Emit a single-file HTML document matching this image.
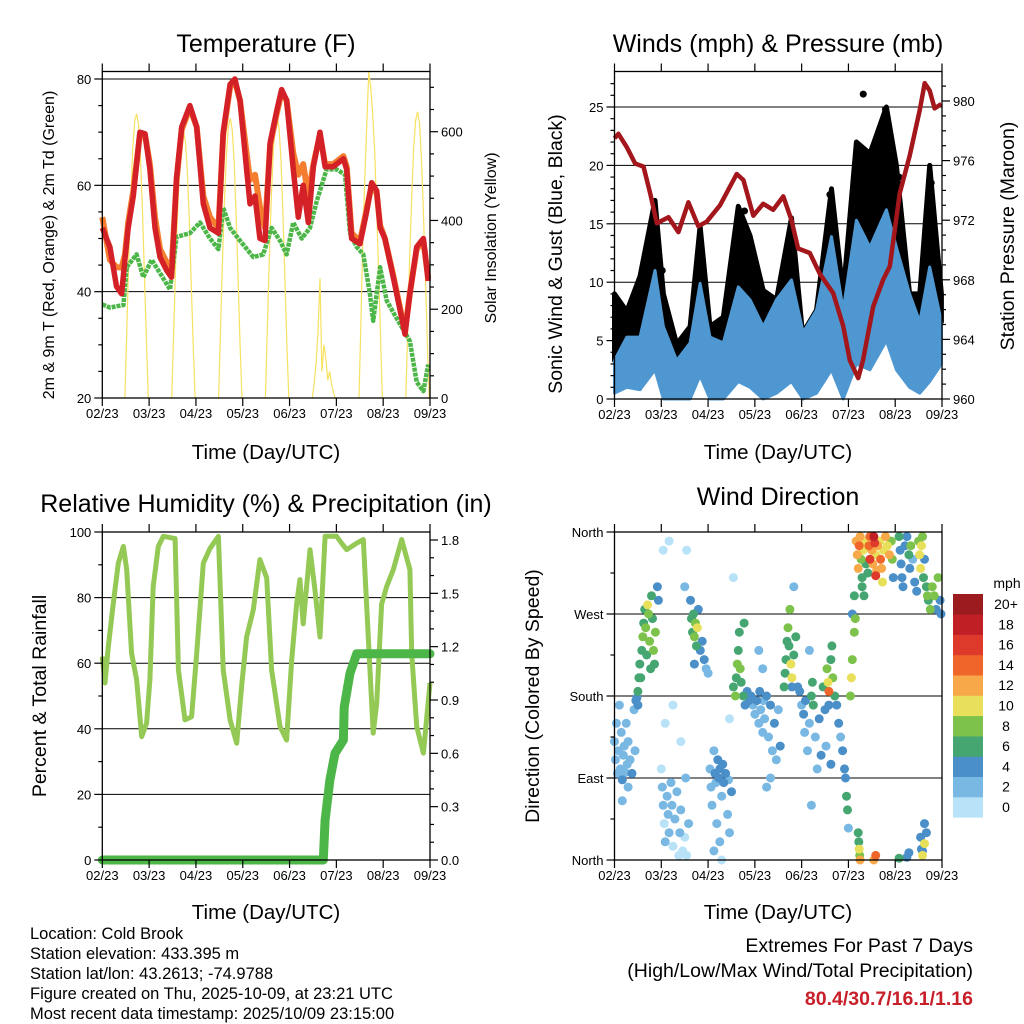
<!DOCTYPE html>
<html><head><meta charset="utf-8"><style>
html,body{margin:0;padding:0;background:#fff;}
svg{display:block;font-family:"Liberation Sans",Arial,sans-serif;}
</style></head><body>
<svg id="chart" width="1024" height="1024" viewBox="0 0 1024 1024" xmlns="http://www.w3.org/2000/svg">
<rect x="0" y="0" width="1024" height="1024" fill="#fff"/>
<g id="p1"></g>
<g id="p2"></g>
<g id="p3"></g>
<g id="p4"></g>
<g font-size="25" text-anchor="middle" fill="#000">
<text x="266" y="52">Temperature (F)</text>
<text x="778" y="52">Winds (mph) &amp; Pressure (mb)</text>
<text x="266" y="512">Relative Humidity (%) &amp; Precipitation (in)</text>
<text x="778" y="505">Wind Direction</text>
</g>
<g font-size="20.5" text-anchor="middle" fill="#000">
<text x="266" y="459">Time (Day/UTC)</text>
<text x="778" y="459">Time (Day/UTC)</text>
<text x="266" y="919">Time (Day/UTC)</text>
<text x="778" y="919">Time (Day/UTC)</text>
</g>
<g font-size="19.5" text-anchor="middle" fill="#000">
<text transform="translate(562,254) rotate(-90)">Sonic Wind &amp; Gust (Blue, Black)</text>
<text transform="translate(1014,236) rotate(-90)">Station Pressure (Maroon)</text>
<text transform="translate(46,696) rotate(-90)">Percent &amp; Total Rainfall</text>
<text transform="translate(539,696) rotate(-90)">Direction (Colored By Speed)</text>
</g>
<g font-size="16" text-anchor="middle" fill="#000">
<text transform="translate(54,245) rotate(-90)">2m &amp; 9m T (Red, Orange) &amp; 2m Td (Green)</text>
<text transform="translate(496,238) rotate(-90)">Solar Insolation (Yellow)</text>
</g>
<g font-size="16.5" fill="#000">
<text x="30" y="939">Location: Cold Brook</text>
<text x="30" y="959">Station elevation: 433.395 m</text>
<text x="30" y="979">Station lat/lon: 43.2613; -74.9788</text>
<text x="30" y="999">Figure created on Thu, 2025-10-09, at 23:21 UTC</text>
<text x="30" y="1019">Most recent data timestamp: 2025/10/09 23:15:00</text>
</g>
<g font-size="19.5" text-anchor="end">
<text x="973" y="952" fill="#000">Extremes For Past 7 Days</text>
<text x="973" y="977" fill="#000">(High/Low/Max Wind/Total Precipitation)</text>
<text x="973" y="1005" fill="#c8202a" font-weight="bold">80.4/30.7/16.1/1.16</text>
</g>
<g id="legend"></g>
</svg>
<script>
// ---------- data ----------
var dayLabels = ["02/23","03/23","04/23","05/23","06/23","07/23","08/23","09/23"];
var tempHours = [0,3.9,7.3,9.9,11.6,13.3,15.9,19.3,21.9,24.4,27,29.6,33,35.5,38.1,40.7,44.9,48.4,51.8,55.2,59.5,62,65.5,68,70.6,74,75.7,78.3,80.8,83.4,86,89.4,91.9,94.5,97.9,100.5,103,105.6,108.2,111.6,114.2,118.4,123.6,125.3,127.8,132.1,135.5,138.1,140.7,142.4,144.9,149.2,155.2,157.7,161.2,164.6,167.1];
var temp2m = [52,48.4,41,39.6,46,52,58,70,69.7,63,52,46.5,44,42.7,61.5,71,75,71,56.5,52,51,70,79,80,76,63,56.5,58,50,49.6,68,74,78,76,63,54,60,53,63.5,70,63.5,63.5,65,63,50,49,55,60.5,59,52,50,42.7,32,39.6,48.4,50,42];
var temp9m = [54,46,44.6,44.5,47,53,59,69.5,69.5,64,54,48,45.5,44,61,70.5,74.5,71,58,54,52,69.5,78.5,79.5,76,66,61,62,56,52,67.5,73.5,77.5,76,66,62,64,58,64,69.5,64,64,65.5,63.5,51,49.5,55.5,60,58.5,52.5,50,43,32.5,39.8,48,49.5,42.5];
var dewHours = [0,3.9,10.8,12.5,17.6,21,25.3,29.6,34.7,38.1,44.9,50.1,55.2,59.5,62,65.5,70.6,77.4,82.5,86.8,91.1,94.5,97.9,102.2,106.5,109.9,115,120.1,124.4,127,130.4,133.8,137.2,138.9,142.4,145.8,150.9,157.7,161.2,164.6,167.1];
var dewPoint = [37.6,37,37.5,44.6,47,42.7,46,43.5,40.4,50.3,51,53,50,48,55.8,52,49.6,46.5,47,52,49.6,47,53,50,52,57,63,63,62,51,48.4,47,39.6,34.5,44.6,38.3,35,30.7,23,21.3,26.3];
var solarDays = [
 [0,160,320,450,560,625,640,615,540,420,280,130,0],
 [0,150,300,420,520,585,600,580,510,400,260,120,0],
 [0,155,310,440,545,610,630,605,530,410,270,125,0],
 [0,155,315,445,550,615,630,610,535,415,270,125,0],
 [0,30,80,150,270,60,120,90,40,60,30,10,0],
 [0,170,360,500,620,735,700,640,560,430,290,140,0],
 [0,160,320,450,560,625,645,620,540,420,280,130,0]
];
var windHours = [0,6.3,13.1,20.8,25.1,31.9,38.8,43.9,49,55.8,63.5,69.5,76.3,83.1,90.8,96.8,103.6,111.3,117.3,124.1,131,139.5,144.6,151.4,156.6,161.7,167.7];
var windHigh = [3.3,5.3,5.3,11,6.2,3.3,4.8,9.9,5.3,4.8,9.6,8.5,6.2,8.5,10.2,5.7,7.6,13.9,7.6,15.3,13,16.2,13,9,6.6,11.3,6.6];
var windLow = [0.5,1,0.8,2.5,0,0,0,2,0,0,1.5,1,0,0.5,1.5,0,0.5,2.5,0,3,2.5,5,2.5,1,0.5,1.5,3];
var gust = [9,7.5,10.5,17,9,4.7,6.2,14.8,6.2,7,16.5,14,9.3,8.5,15.5,5,7.6,18,9,22,21,25,20,9,9,20,9];
var gustSpikeHours = [127.6,139,66.7,24.5,146,162.5,110.5];
var gustSpikes = [26.1,24.8,16.1,11,19,18.5,17.5];
var presHours = [0,2,6.3,10.6,14.9,18.3,21.7,27.7,32.8,37.9,43,47.3,54.1,62.7,66.1,71.2,76.3,81.4,86.6,90.8,94.2,100.2,105.3,112.2,117.3,120.7,125,127.5,132.7,137.8,141.2,146.3,151.4,156.6,159.1,161.7,164.2,167.7];
var pressure = [977.5,977.8,976.9,975.8,975.6,973.8,971.8,972.2,971.2,973.2,971.6,971.9,973,975.1,974.7,972.3,973.1,972.7,973.6,972,970.1,969.8,968.4,967.1,964.9,962.6,961.4,962.6,966.2,968,968.9,973.8,976.3,979.4,981.2,980.7,979.5,979.8];
var rhHours = [0,1.4,3.1,5.6,8.2,10.8,12.5,15,17.6,20.2,22.7,24.4,26.1,28.7,31.3,37.3,39,42.4,45.8,48.4,51.8,55.2,59.5,62,65.5,68.9,71.4,74,77.4,80.8,84.3,86.8,91.1,94.5,97.1,99.6,101.3,103,106.5,108.9,111.6,114.2,120.1,122.7,125.3,130.4,133.8,135.5,138.9,140.7,143.2,145.8,149.2,153.5,157.7,158.6,161.2,164.6,168];
var rh = [62,54,65,78,90.5,95.6,88.5,63,55,37.6,41.7,55,83.4,95.6,98.7,98,58,42.7,43.7,63,90.5,95,98.7,58,42.7,35.6,52.9,68,76.3,91.6,86,58,40.7,36.6,61,78,85.5,72,94.6,83,68,98.7,98.7,96.6,94.6,96.6,97.7,78,38.7,47.8,78,83.4,88.5,97.7,88.5,63,40.7,32.6,54];
var rainHours = [0,113.3,114.2,116.7,119.3,123.6,124,127,130.4,168];
var rain = [0,0,0.225,0.45,0.6,0.675,0.86,1.05,1.16,1.16];
var dirHours = [0,0.5,1,1.5,2,2.5,3,3.5,4,4.5,5,5.5,6,6.5,7,8,9,10,10.5,11,4,7,11.5,12,
12,12.5,13,14,14.5,15,15.5,16,17,17.5,18,19,19.5,20,20.5,21,22,22.5,13.5,16.5,18.5,
24,24.5,25,25.5,26,27,27.5,28,29,29.5,30,31,32,33,33.5,34,35,36,36.5,37,38,26,30,34,28,25,37,36,
39,39.5,40,40.5,41,41.5,42,42.5,43,44,45,46,47,48,41,
49,49.5,50,51,51.5,52,52.5,53,53.5,54,55,55.5,56,57,58,58.5,59,60,54,51,55,61,59,
61,62,62.5,63,63.5,64,64.5,65,66,66.5,67,68,69,
70,71,72,73,74,74.5,75,76,76.5,77,78,79,80,81,82,83,84,85,80,78,74,76,
87,87.5,88,88.5,89,89.5,90,90.5,91,92,93,94,91,92,
95,96,97,97.5,98,99,100,101,101.5,102,103,104,105,106,107,108,108.5,110,111,101,100,
109,109.5,110,111,111.5,112,113,114,115,116,117,118,118.5,119,119.5,120,121,121.5,122,122,123,123.5,123,
124,124.5,125,125.5,126,126.5,127,127.5,128,129,130,130.5,131,132,132.5,133,133.5,134,134.5,135,136,136.5,137,137.5,138,139,140,141,142,142.5,143,127,128,131,134,
146,146.5,147,147.5,148,149,150,151,151.5,152,153,154,155,156,156.5,157,157.5,158,158.5,159,160,160.5,161,162,163,164,165,166,167,167.5,
125,125.3,125.5,125.8,126,134,133,146,150,151,157,157.5,158,159,160,159,158];
var dirDeg = [130,110,150,95,120,170,100,140,88,115,125,96,150,105,130,110,95,165,120,175,65,80,178,170,
185,200,215,230,245,260,275,255,280,270,240,290,265,230,215,250,300,285,200,225,210,
100,80,60,40,20,70,50,30,85,60,15,45,75,5,30,55,10,25,90,5,40,150,170,130,350,340,340,300,
285,265,250,270,245,260,235,255,275,230,240,220,210,205,215,
100,80,60,120,95,85,40,110,90,100,70,105,85,95,50,88,30,75,20,10,0,310,155,
190,180,200,215,230,250,210,195,180,260,170,185,175,
180,170,160,175,150,185,165,140,175,155,180,135,170,120,150,110,165,125,90,80,230,210,
190,205,220,240,255,235,275,215,200,225,245,190,190,300,
185,170,160,140,175,120,150,180,195,170,135,100,155,115,190,165,125,170,105,60,230,
210,195,185,220,235,200,180,170,150,135,120,100,90,70,55,35,180,200,220,270,290,265,250,
350,335,320,345,355,330,310,340,350,325,315,345,355,340,325,355,348,335,318,345,350,330,320,305,340,355,345,335,350,330,310,300,290,330,312,
355,340,325,310,300,345,355,335,320,345,330,305,295,350,335,320,345,355,310,330,300,290,285,275,300,290,275,310,285,270,
30,20,12,5,0,5,0,2,3,8,25,12,5,18,30,40,10];
var dirSpeed = [2,2,2,3,2,2,3,2,4,2,3,2,2,2,3,2,4,2,2,4,3,3,4,4,
6,6,7,7,8,7,6,8,10,9,8,7,6,8,7,9,4,4,7,6,7,
1,2,2,1,2,2,2,2,2,3,1,2,2,1,2,2,1,1,2,1,2,0,1,0,0,0,0,2,
4,6,6,7,8,8,6,10,5,4,4,4,2,2,4,
2,2,2,2,4,3,2,4,4,4,3,4,4,4,2,3,2,4,2,2,1,1,1,
6,8,7,8,6,7,8,6,6,6,4,4,4,
4,3,2,4,2,4,3,2,3,2,4,3,4,2,4,2,3,4,2,2,2,2,
6,6,7,6,8,7,8,10,10,6,6,4,4,3,
4,2,4,3,4,2,3,6,6,6,3,3,4,4,6,4,3,4,4,2,2,
8,10,14,6,6,8,6,4,4,3,4,4,4,6,6,2,8,10,8,4,6,8,8,
12,12,12,14,13,8,6,10,10,6,6,14,14,12,12,18,16,10,12,12,10,14,12,10,10,12,10,12,8,8,4,6,6,16,16,
6,4,4,4,4,4,4,6,4,8,2,4,4,8,10,10,10,8,6,4,6,8,6,8,8,8,4,8,4,4,
6,6,10,8,12,14,12,6,4,4,4,4,10,10,4,4,4];
var speedLevels = ["0","2","4","6","8","10","12","14","16","18","20+"];
var speedColors = ["#b8e2f7","#7ab8e4","#4a8fc8","#46a672","#7dc24b","#e8e05a","#f7a94a","#f0652a","#de3a2c","#c01f26","#9b1b1f"];

// ---------- helpers ----------
var NS = "http://www.w3.org/2000/svg";
function mk(parent, tag, attrs) {
  var e = document.createElementNS(NS, tag);
  for (var k in attrs) e.setAttribute(k, attrs[k]);
  parent.appendChild(e);
  return e;
}
function hx(x0, x1) { return function (h) { return x0 + h / 168 * (x1 - x0); }; }
function lin(d0, d1, p0, p1) { return function (v) { return p0 + (v - d0) / (d1 - d0) * (p1 - p0); }; }
function pathD(hs, vs, fx, fy) {
  var s = "";
  for (var i = 0; i < hs.length; i++) s += (i ? "L" : "M") + fx(hs[i]).toFixed(1) + "," + fy(vs[i]).toFixed(1);
  return s;
}
function frame(g, x0, x1, y0, y1) {
  var r = mk(g, "rect", {x: x0, y: y0, width: x1 - x0, height: y1 - y0, fill: "none", stroke: "#000", "stroke-width": 1.3});
  
  
  var fx = hx(x0, x1);
  for (var d = 0; d < 8; d++) {
    var x = fx(d * 24);
    var t1 = mk(g, "line", {x1: x, x2: x, y1: y0, y2: y0 - 8, stroke: "#000", "stroke-width": 1.2});
    
    
    var t2 = mk(g, "line", {x1: x, x2: x, y1: y1, y2: y1 + 8, stroke: "#000", "stroke-width": 1.2});
    
    
    var tl = mk(g, "text", {x: x, y: y1 + 20, "font-size": 13, "text-anchor": "middle"});
    tl.textContent = dayLabels[d];
    
    
  }
}
function grid(g, x0, x1, y) {
  var l = mk(g, "line", {x1: x0, x2: x1, y1: y, y2: y, stroke: "#000", "stroke-width": 1});
  
  
}
function yTick(g, x, y, len, label, anchor, fs) {
  var t = mk(g, "line", {x1: x, x2: x + len, y1: y, y2: y, stroke: "#000", "stroke-width": 1.2});
  
  
  if (label !== null) {
    var tx = mk(g, "text", {x: x + len + (len < 0 ? -3 : 3), y: y + 5, "font-size": fs, "text-anchor": anchor});
    tx.textContent = label;
    
    
  }
}

// ---------- panel 1: temperature ----------
(function () {
  var g = document.getElementById("p1");
  var X0 = 102.3, X1 = 430, Y0 = 71.5, Y1 = 398;
  var fx = hx(X0, X1), fy = lin(20, 80, 398, 79), fs = lin(0, 600, 398, 131.7);
  [40, 60, 80].forEach(function (v) { grid(g, X0, X1, fy(v)); });
  for (var d = 0; d < solarDays.length; d++) {
    var hs = [];
    for (var k = 0; k < solarDays[d].length; k++) hs.push(11.6 + 24 * d + k);
    var p = mk(g, "path", {d: pathD(hs, solarDays[d], fx, fs), fill: "none", stroke: "#f7e160", "stroke-width": 1.2});
    
    
  }
  var pd = mk(g, "path", {d: pathD(dewHours, dewPoint, fx, fy), fill: "none", stroke: "#4cb648", "stroke-width": 4.5, "stroke-dasharray": "4,1", "stroke-linejoin": "round"});
  
  
  var po = mk(g, "path", {d: pathD(tempHours, temp9m, fx, fy), fill: "none", stroke: "#f47d30", "stroke-width": 6, "stroke-linejoin": "round"});
  
  
  var pr = mk(g, "path", {d: pathD(tempHours, temp2m, fx, fy), fill: "none", stroke: "#d42027", "stroke-width": 5.5, "stroke-linejoin": "round"});
  
  
  frame(g, X0, X1, Y0, Y1);
  for (var v = 20; v <= 80; v += 5) yTick(g, X0, fy(v), v % 20 ? -4 : -8, v % 20 ? null : String(v), "end", 13);
  for (var s = 0; s <= 700; s += 50) yTick(g, X1, fs(s), s % 200 ? 4 : 8, s % 200 ? null : String(s), "start", 13);
})();

// ---------- panel 2: winds ----------
(function () {
  var g = document.getElementById("p2");
  var X0 = 614.5, X1 = 942, Y0 = 71.5, Y1 = 399;
  var fx = hx(X0, X1), fy = lin(0, 25, 399, 107), fp = lin(960, 980, 399, 101);
  [5, 10, 15, 20, 25].forEach(function (v) { grid(g, X0, X1, fy(v)); });
  var d = pathD(windHours, gust, fx, fy);
  for (var i = windHours.length - 1; i >= 0; i--) d += "L" + fx(windHours[i]).toFixed(1) + "," + fy(windHigh[i]).toFixed(1);
  var ga = mk(g, "path", {d: d + "Z", fill: "#000", stroke: "#000", "stroke-width": 5, "stroke-linejoin": "round"});
  
  
  for (var j = 0; j < gustSpikeHours.length; j++) {
    var c = mk(g, "circle", {cx: fx(gustSpikeHours[j]), cy: fy(gustSpikes[j]), r: 3.5, fill: "#000"});
    
    
  }
  var d2 = pathD(windHours, windHigh, fx, fy);
  for (var k = windHours.length - 1; k >= 0; k--) d2 += "L" + fx(windHours[k]).toFixed(1) + "," + fy(windLow[k]).toFixed(1);
  var wa = mk(g, "path", {d: d2 + "Z", fill: "#4f97d1", stroke: "#4f97d1", "stroke-width": 3, "stroke-linejoin": "round"});
  
  
  var pp = mk(g, "path", {d: pathD(presHours, pressure, fx, fp), fill: "none", stroke: "#a3161b", "stroke-width": 4.5, "stroke-linejoin": "round"});
  
  
  frame(g, X0, X1, Y0, Y1);
  for (var v = 0; v <= 27; v++) yTick(g, X0, fy(v), v % 5 ? -4 : -8, v % 5 ? null : String(v), "end", 13);
  for (var p = 960; p <= 981; p++) yTick(g, X1, fp(p), p % 4 ? 4 : 8, p % 4 ? null : String(p), "start", 13);
})();

// ---------- panel 3: humidity ----------
(function () {
  var g = document.getElementById("p3");
  var X0 = 102.3, X1 = 430, Y0 = 532, Y1 = 860;
  var fx = hx(X0, X1), fy = lin(0, 100, 860, 532), fr = lin(0, 1.8, 860, 540);
  [20, 40, 60, 80].forEach(function (v) { grid(g, X0, X1, fy(v)); });
  var pr = mk(g, "path", {d: pathD(rhHours, rh, fx, fy), fill: "none", stroke: "#93c954", "stroke-width": 5, "stroke-linejoin": "round"});
  
  
  var pn = mk(g, "path", {d: pathD(rainHours, rain, fx, fr), fill: "none", stroke: "#4cb648", "stroke-width": 9, "stroke-linejoin": "round", "stroke-linecap": "round"});
  
  
  frame(g, X0, X1, Y0, Y1);
  for (var v = 0; v <= 100; v += 10) yTick(g, X0, fy(v), v % 20 ? -4 : -8, v % 20 ? null : String(v), "end", 13);
  for (var i = 0; i <= 18; i++) yTick(g, X1, fr(i / 10), i % 3 ? 4 : 8, i % 3 ? null : (i / 10).toFixed(1), "start", 13);
})();

// ---------- panel 4: wind direction ----------
(function () {
  var g = document.getElementById("p4");
  var X0 = 614.5, X1 = 942, Y0 = 532, Y1 = 860;
  var fx = hx(X0, X1), fy = lin(0, 360, 860, 532);
  [90, 180, 270].forEach(function (v) { grid(g, X0, X1, fy(v)); });
  var idx = [];
  for (var i = 0; i < dirHours.length; i++) idx.push(i);
  idx.sort(function (a, b) { return dirSpeed[a] - dirSpeed[b]; });
  idx.forEach(function (i) {
    var ci = Math.min(10, Math.floor(dirSpeed[i] / 2));
    var c = mk(g, "circle", {cx: fx(dirHours[i]).toFixed(1), cy: fy(dirDeg[i]).toFixed(1), r: 4.5, fill: speedColors[ci]});
    
    
  });
  frame(g, X0, X1, Y0, Y1);
  var names = ["North", "East", "South", "West", "North"];
  for (var k = 0; k < 5; k++) yTick(g, X0, fy(k * 90), -8, names[k], "end", 13);
  for (var m = 0; m <= 360; m += 45) if (m % 90) yTick(g, X0, fy(m), -4, null, "end", 13);
  var lg = document.getElementById("legend");
  var t = mk(lg, "text", {x: 1007, y: 588, "font-size": 14, "text-anchor": "middle"});
  t.textContent = "mph";
  
  
  for (var s = 0; s < speedLevels.length; s++) {
    var y = 594 + (10 - s) * 20.3;
    var r = mk(lg, "rect", {x: 953, y: y, width: 30, height: 20.6, fill: speedColors[s]});
    
    
    var lt = mk(lg, "text", {x: 1006, y: y + 15, "font-size": 14, "text-anchor": "middle"});
    lt.textContent = speedLevels[s];
    
    
  }
})();
</script>
</body></html>
